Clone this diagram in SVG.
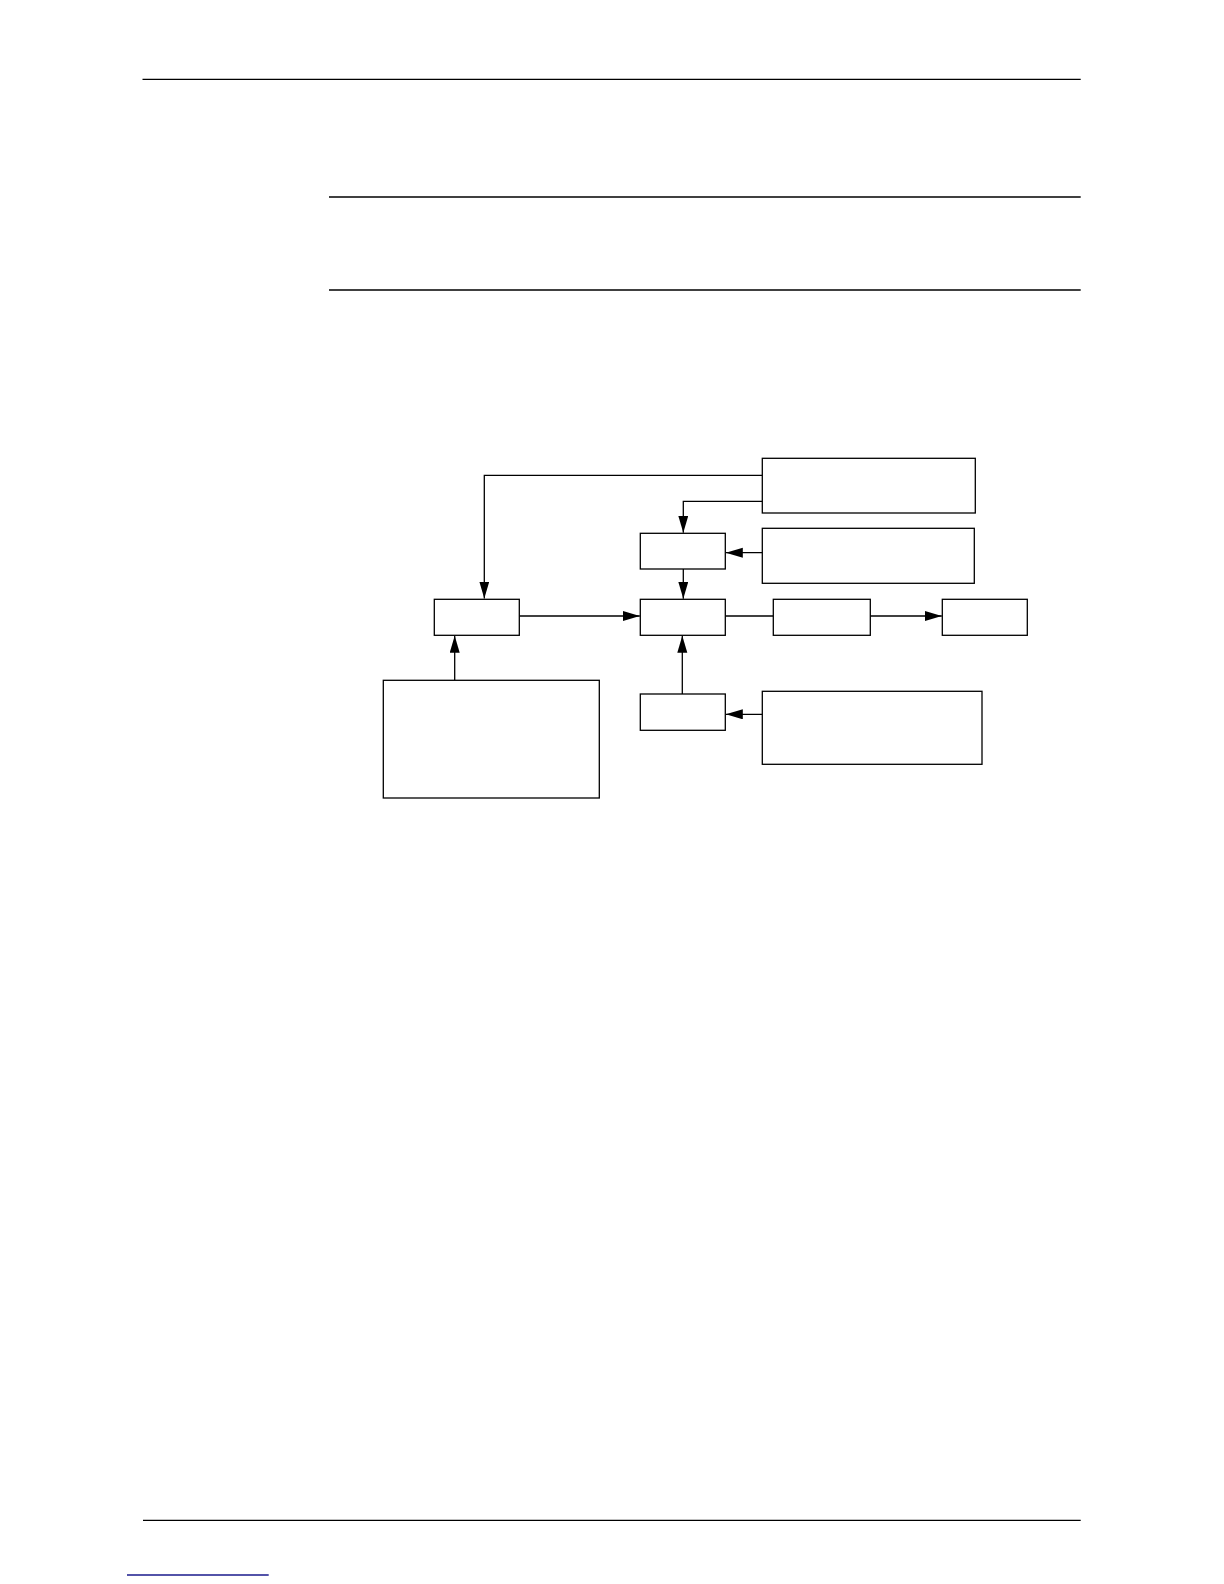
<svg xmlns="http://www.w3.org/2000/svg" width="1224" height="1584" viewBox="0 0 1224 1584">
  <style>
    .rule { stroke: #000; stroke-width: 1.3; fill: none; }
    .node { fill: #fff; stroke: #000; stroke-width: 1.3; }
    .conn { fill: none; stroke: #000; stroke-width: 1.3; }
    .link { stroke: #1a1a8c; stroke-width: 1.3; }
  </style>
  <defs>
    <marker id="arrow" markerUnits="userSpaceOnUse" markerWidth="18" markerHeight="11" refX="17" refY="5" orient="auto">
      <path d="M0,0 L17,5 L0,10 Z" fill="#000"/>
    </marker>
  </defs>
  <rect width="1224" height="1584" fill="#fff"/>
  <g id="page-rules">
    <line class="rule" x1="142.5" y1="79.3" x2="1080.7" y2="79.3"/>
    <line class="rule" x1="329" y1="197" x2="1080.7" y2="197"/>
    <line class="rule" x1="329" y1="290" x2="1080.7" y2="290"/>
    <line class="rule" x1="143" y1="1520.3" x2="1080.7" y2="1520.3"/>
    <line class="link" x1="127" y1="1575" x2="268.7" y2="1575"/>
  </g>
  <g id="connectors">
    <path class="conn" d="M762.3,475.3 H484.3 V598.5" marker-end="url(#arrow)"/>
    <path class="conn" d="M762.3,501.3 H683.3 V532.8" marker-end="url(#arrow)"/>
    <path class="conn" d="M762.3,552.7 H725.8" marker-end="url(#arrow)"/>
    <path class="conn" d="M683.3,569 V598.8" marker-end="url(#arrow)"/>
    <path class="conn" d="M519.3,616 H639.8" marker-end="url(#arrow)"/>
    <path class="conn" d="M725.3,616 H773.3"/>
    <path class="conn" d="M870.3,616 H941.8" marker-end="url(#arrow)"/>
    <path class="conn" d="M454.7,680.3 V635.8" marker-end="url(#arrow)"/>
    <path class="conn" d="M682.3,694 V635.8" marker-end="url(#arrow)"/>
    <path class="conn" d="M762.3,714.3 H725.8" marker-end="url(#arrow)"/>
  </g>
  <g id="node-a"><rect class="node" x="762.3" y="458.3" width="213" height="54.7"/></g>
  <g id="node-b"><rect class="node" x="762.3" y="528.3" width="212" height="55"/></g>
  <g id="node-c"><rect class="node" x="640.3" y="533.3" width="85" height="35.7"/></g>
  <g id="node-d"><rect class="node" x="434.3" y="599.3" width="85" height="36"/></g>
  <g id="node-e"><rect class="node" x="640.3" y="599.3" width="85" height="36"/></g>
  <g id="node-f"><rect class="node" x="773.3" y="599.3" width="97" height="36"/></g>
  <g id="node-g"><rect class="node" x="942.3" y="599.3" width="85" height="36"/></g>
  <g id="node-h"><rect class="node" x="383.3" y="680.3" width="216" height="117.7"/></g>
  <g id="node-i"><rect class="node" x="640.3" y="694" width="85" height="36.3"/></g>
  <g id="node-j"><rect class="node" x="762.3" y="691.3" width="219.7" height="73"/></g>
</svg>
